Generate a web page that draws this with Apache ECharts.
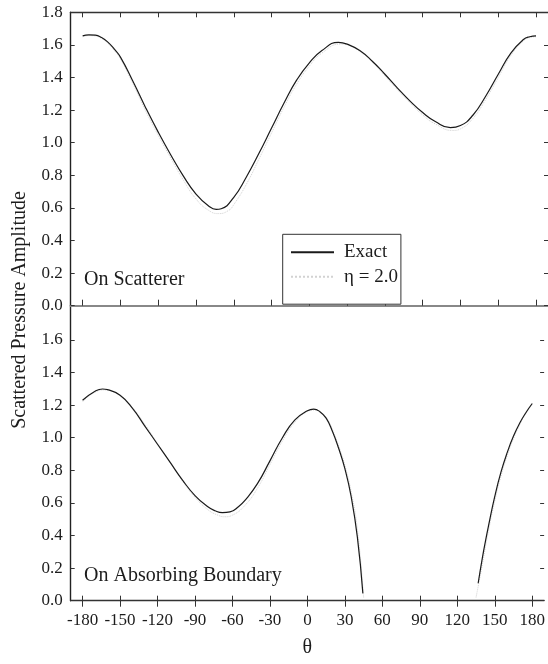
<!DOCTYPE html>
<html>
<head>
<meta charset="utf-8">
<script src="https://cdn.jsdelivr.net/npm/echarts@6/dist/echarts.min.js"></script>
<style>
  html, body { margin: 0; padding: 0; background: #fff; }
  #chart { width: 548px; height: 664px; }
</style>
</head>
<body>
<div id="chart"></div>
<script>
// Scattered pressure amplitude versus angle, on the scatterer and on the absorbing boundary.
var thetaTicks = [-180, -150, -120, -90, -60, -30, 0, 30, 60, 90, 120, 150, 180];
var ampTicksTop = [0, 0.2, 0.4, 0.6, 0.8, 1.0, 1.2, 1.4, 1.6, 1.8];
var ampTicksBottom = [0, 0.2, 0.4, 0.6, 0.8, 1.0, 1.2, 1.4, 1.6];

// On scatterer
var scatExactTheta = [-180, -175, -170, -165, -160, -155, -150, -140, -130, -120, -110, -100, -90, -80, -74, -70, -60, -50, -40, -30, -20, -10, 0, 10, 23, 30, 40, 50, 60, 70, 80, 90, 100, 112, 120, 130, 140, 150, 160, 170, 175, 180];
var scatExact = [1.655, 1.662, 1.66, 1.645, 1.617, 1.575, 1.525, 1.375, 1.215, 1.065, 0.925, 0.795, 0.685, 0.612, 0.591, 0.595, 0.665, 0.79, 0.935, 1.09, 1.245, 1.385, 1.49, 1.565, 1.616, 1.605, 1.565, 1.5, 1.42, 1.335, 1.255, 1.185, 1.13, 1.092, 1.105, 1.17, 1.285, 1.42, 1.55, 1.633, 1.65, 1.655];
var scatEtaTheta = [-180, -175, -170, -165, -160, -155, -150, -140, -130, -120, -110, -100, -90, -80, -72, -64, -60, -50, -40, -30, -20, -10, 0, 10, 25, 30, 40, 50, 60, 70, 80, 90, 100, 114, 120, 130, 140, 150, 160, 170, 175, 180];
var scatEta = [1.65, 1.657, 1.655, 1.64, 1.61, 1.567, 1.515, 1.36, 1.195, 1.045, 0.905, 0.77, 0.655, 0.585, 0.565, 0.585, 0.62, 0.745, 0.9, 1.06, 1.22, 1.36, 1.47, 1.55, 1.605, 1.6, 1.56, 1.495, 1.41, 1.325, 1.245, 1.17, 1.115, 1.075, 1.085, 1.15, 1.265, 1.4, 1.535, 1.625, 1.645, 1.65];

// On absorbing boundary (null = no value in the shadow zone)
var bndExactTheta = [-180, -170, -164, -160, -150, -140, -130, -120, -110, -100, -90, -80, -74, -68, -62, -55, -50, -40, -30, -20, -10, 0, 5, 10, 15, 20, 25, 30, 35, 40, 44.4, 90, 136.7, 140, 142.7, 145, 150, 155, 160, 165, 170, 175, 180];
var bndExact = [1.23, 1.285, 1.299, 1.295, 1.26, 1.18, 1.07, 0.96, 0.85, 0.74, 0.645, 0.578, 0.552, 0.54, 0.545, 0.578, 0.615, 0.718, 0.858, 1.0, 1.11, 1.165, 1.175, 1.16, 1.12, 1.04, 0.935, 0.81, 0.64, 0.39, 0.045, null, 0.107, 0.26, 0.372, 0.46, 0.64, 0.79, 0.91, 1.01, 1.09, 1.155, 1.21];
var bndEtaTheta = [-180, -170, -162, -150, -140, -130, -120, -110, -100, -90, -80, -72, -66, -60, -50, -40, -30, -20, -10, 0, 6, 10, 15, 20, 25, 30, 35, 40, 45, 90, 135, 140, 145, 150, 155, 160, 165, 170, 175, 180];
var bndEta = [1.22, 1.28, 1.293, 1.26, 1.185, 1.08, 0.965, 0.85, 0.735, 0.635, 0.56, 0.526, 0.515, 0.525, 0.585, 0.69, 0.835, 0.98, 1.095, 1.16, 1.17, 1.16, 1.125, 1.05, 0.95, 0.83, 0.67, 0.44, 0.02, null, 0.02, 0.22, 0.43, 0.61, 0.765, 0.89, 0.995, 1.08, 1.15, 1.205];

function pairs(xs, ys) {
  return xs.map(function (x, i) { return [x, ys[i] === null ? '-' : ys[i]]; });
}

var FONT = '"Liberation Serif", "DejaVu Serif", serif';
var INK = '#1c1c1c';
var DOT = '#d2d2d2';
var X_MIN = -189.5, X_MAX = 189.5;

function xAxisBase(grid, pos, opts) {
  var a = {
    type: 'value', gridIndex: grid, position: pos, min: X_MIN, max: X_MAX,
    splitLine: { show: false },
    axisLine: { show: true, onZero: false, lineStyle: { color: '#333', width: 1.4 } },
    axisTick: { show: true, inside: true, length: 5, customValues: thetaTicks, lineStyle: { color: '#333', width: 1 } },
    axisLabel: { show: false, customValues: thetaTicks }
  };
  for (var k in opts) a[k] = opts[k];
  return a;
}

function yAxisBase(grid, pos, max, ticks, showLabels) {
  return {
    type: 'value', gridIndex: grid, position: pos, min: 0, max: max,
    splitLine: { show: false },
    axisLine: { show: pos === 'left', onZero: false, lineStyle: { color: '#222', width: 1.4 } },
    axisTick: { show: true, inside: true, length: 4, customValues: ticks, lineStyle: { color: '#333', width: 1 } },
    axisLabel: {
      show: showLabels, customValues: ticks, margin: 8,
      fontFamily: FONT, fontSize: 17, color: INK,
      formatter: function (v) { return v.toFixed(1); }
    }
  };
}

var chart = echarts.init(document.getElementById('chart'), null, { renderer: 'canvas' });

chart.setOption({
  animation: false,
  backgroundColor: '#fff',
  grid: [
    { left: 70.7, top: 12.3, width: 478.3, height: 293.4 },
    { left: 70.7, top: 305.7, width: 478.3, height: 295 }
  ],
  xAxis: [
    xAxisBase(0, 'bottom', {
      axisLine: { show: true, onZero: false, lineStyle: { color: '#888', width: 2 } },
      axisTick: { show: true, inside: true, length: 6, customValues: thetaTicks, lineStyle: { color: '#333', width: 1 } }
    }),
    xAxisBase(0, 'top', {}),
    xAxisBase(1, 'bottom', {
      axisLabel: {
        show: true, customValues: thetaTicks, margin: 11,
        fontFamily: FONT, fontSize: 17, color: INK,
        formatter: function (v) { return String(v); }
      },
      name: 'θ', nameLocation: 'middle', nameGap: 37,
      nameTextStyle: { fontFamily: FONT, fontSize: 20, color: INK }
    }),
    xAxisBase(1, 'bottom', {
      axisLine: { show: false },
      axisTick: { show: true, inside: false, length: 4, customValues: thetaTicks, lineStyle: { color: '#333', width: 1 } }
    }),
    xAxisBase(1, 'top', {
      axisLine: { show: false },
      axisTick: { show: true, inside: true, length: 6, customValues: thetaTicks, lineStyle: { color: '#333', width: 1 } }
    })
  ],
  yAxis: [
    yAxisBase(0, 'left', 1.8, ampTicksTop, true),
    yAxisBase(0, 'right', 1.8, ampTicksTop, false),
    yAxisBase(1, 'left', 1.81, ampTicksBottom, true),
    yAxisBase(1, 'right', 1.81, ampTicksBottom, false)
  ],
  legend: {
    data: ['Exact', 'η = 2.0'],
    orient: 'vertical',
    left: 282.7, top: 234.3,
    padding: [8.5, 3, 18, 7.3],
    itemWidth: 43, itemHeight: 14, itemGap: 5.4,
    borderColor: '#333', borderWidth: 1, borderRadius: 0,
    backgroundColor: '#fff',
    selectedMode: false,
    itemStyle: { opacity: 0 },
    textStyle: { fontFamily: FONT, fontSize: 19, lineHeight: 19, color: INK, padding: [0, 0, 0, 5] }
  },
  graphic: [
    { type: 'text', left: 84, top: 270, style: { text: 'On Scatterer', font: '20px ' + FONT, fill: INK } },
    { type: 'text', left: 84, top: 566, style: { text: 'On Absorbing Boundary', font: '20px ' + FONT, fill: INK } },
    {
      type: 'text', x: 20, y: 310, rotation: Math.PI / 2,
      style: { text: 'Scattered Pressure Amplitude', font: '20px ' + FONT, fill: INK, textAlign: 'center', textVerticalAlign: 'middle' }
    }
  ],
  series: [
    {
      name: 'η = 2.0', type: 'line', xAxisIndex: 0, yAxisIndex: 0,
      data: pairs(scatEtaTheta, scatEta), smooth: 0.5, symbol: 'none', z: 2,
      lineStyle: { color: DOT, width: 1, type: 'dotted' }, itemStyle: { color: DOT }
    },
    {
      name: 'Exact', type: 'line', xAxisIndex: 0, yAxisIndex: 0,
      data: pairs(scatExactTheta, scatExact), smooth: 0.5, symbol: 'none', z: 3,
      lineStyle: { color: '#1a1a1a', width: 1.2 }, itemStyle: { color: '#1a1a1a' }
    },
    {
      name: 'η = 2.0', type: 'line', xAxisIndex: 2, yAxisIndex: 2,
      data: pairs(bndEtaTheta, bndEta), smooth: 0.5, symbol: 'none', z: 2, connectNulls: false,
      lineStyle: { color: DOT, width: 1, type: 'dotted' }, itemStyle: { color: DOT }
    },
    {
      name: 'Exact', type: 'line', xAxisIndex: 2, yAxisIndex: 2,
      data: pairs(bndExactTheta, bndExact), smooth: 0.5, symbol: 'none', z: 3, connectNulls: false,
      lineStyle: { color: '#1a1a1a', width: 1.2 }, itemStyle: { color: '#1a1a1a' }
    }
  ]
});
</script>
</body>
</html>
